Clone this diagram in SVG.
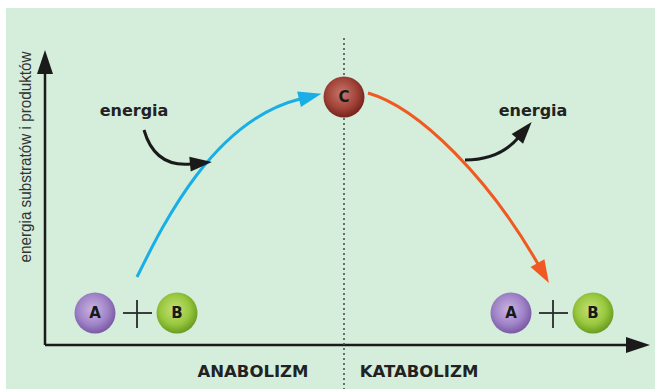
<svg xmlns="http://www.w3.org/2000/svg" width="655" height="389" viewBox="0 0 655 389">
<defs>
<radialGradient id="gA" cx="0.45" cy="0.42" r="0.6">
<stop offset="0" stop-color="#c9b6e2"/><stop offset="0.6" stop-color="#a184c8"/><stop offset="1" stop-color="#7656a2"/>
</radialGradient>
<radialGradient id="gB" cx="0.45" cy="0.42" r="0.6">
<stop offset="0" stop-color="#c6e27a"/><stop offset="0.6" stop-color="#98c83e"/><stop offset="1" stop-color="#66981e"/>
</radialGradient>
<radialGradient id="gC" cx="0.45" cy="0.42" r="0.6">
<stop offset="0" stop-color="#c8786c"/><stop offset="0.6" stop-color="#a2443a"/><stop offset="1" stop-color="#72201a"/>
</radialGradient>
<marker id="mBlue" refX="0" refY="0" markerWidth="30" markerHeight="30" markerUnits="userSpaceOnUse" orient="auto" overflow="visible">
<path d="M-1,-8 L22,0 L-1,8 Z" fill="#1aaee6"/>
</marker>
<marker id="mOrange" refX="0" refY="0" markerWidth="30" markerHeight="30" markerUnits="userSpaceOnUse" orient="auto" overflow="visible">
<path d="M-1,-8 L22,0 L-1,8 Z" fill="#f05a22"/>
</marker>
<marker id="mBlack" refX="0" refY="0" markerWidth="30" markerHeight="30" markerUnits="userSpaceOnUse" orient="auto" overflow="visible">
<path d="M-1,-7.5 L21,0 L-1,7.5 Z" fill="#1a1a1a"/>
</marker>
<marker id="mAxis" refX="0" refY="0" markerWidth="30" markerHeight="30" markerUnits="userSpaceOnUse" orient="auto" overflow="visible">
<path d="M-1,-8 L23,0 L-1,8 Z" fill="#1a1a1a"/>
</marker>
</defs>
<style>
.lbl{font-family:"DejaVu Sans",sans-serif;font-weight:bold;fill:#222;}
.mol{font-family:"DejaVu Sans",sans-serif;font-weight:bold;font-size:15px;fill:#1a1a1a;text-anchor:middle;}
.plus{stroke:#2a2a2a;stroke-width:1.8;}
.axis{stroke:#1a1a1a;stroke-width:2.5;fill:none;}
</style>
<rect x="6" y="8" width="649" height="381" fill="#d5eddb"/>
<g id="axes">
<line class="axis" x1="45" y1="345" x2="45" y2="73" marker-end="url(#mAxis)"/>
<line class="axis" x1="45" y1="345" x2="627" y2="345" marker-end="url(#mAxis)"/>
<line x1="344" y1="38" x2="344" y2="389" stroke="#444" stroke-width="1.5" stroke-dasharray="2,3"/>
</g>
<text x="31" y="157" transform="rotate(-90 31 157)" text-anchor="middle" font-family="Liberation Sans, sans-serif" font-size="16" fill="#333" textLength="211" lengthAdjust="spacingAndGlyphs">energia substratów i produktów</text>
<text class="lbl" x="253" y="377" font-size="16.5" text-anchor="middle">ANABOLIZM</text>
<text class="lbl" x="419" y="377" font-size="16.5" text-anchor="middle">KATABOLIZM</text>
<g id="connectors">
<path d="M137,277 C165,220 215,120 300,99" fill="none" stroke="#1aaee6" stroke-width="3" marker-end="url(#mBlue)"/>
<path d="M368,93 C420,108 490,180 538,264" fill="none" stroke="#f05a22" stroke-width="3" marker-end="url(#mOrange)"/>
<path d="M144,130 C152,158 170,166 191,164" fill="none" stroke="#1a1a1a" stroke-width="3" marker-end="url(#mBlack)"/>
<path d="M465,160 C490,160 506,152 518,138" fill="none" stroke="#1a1a1a" stroke-width="3" marker-end="url(#mBlack)"/>
</g>
<text class="lbl" x="134" y="116" font-size="16" text-anchor="middle">energia</text>
<text class="lbl" x="533" y="116" font-size="16" text-anchor="middle">energia</text>
<g id="C"><circle cx="344" cy="97" r="20.5" fill="url(#gC)"/><text class="mol" x="344" y="102">C</text></g>
<g id="A1"><circle cx="95" cy="313" r="20.5" fill="url(#gA)"/><text class="mol" x="95" y="318">A</text></g>
<g id="plus1"><line class="plus" x1="123" y1="313" x2="152" y2="313"/><line class="plus" x1="137" y1="300" x2="137" y2="328"/></g>
<g id="B1"><circle cx="177" cy="313" r="20.5" fill="url(#gB)"/><text class="mol" x="177" y="318">B</text></g>
<g id="A2"><circle cx="511" cy="313" r="20.5" fill="url(#gA)"/><text class="mol" x="511" y="318">A</text></g>
<g id="plus2"><line class="plus" x1="539" y1="313" x2="568" y2="313"/><line class="plus" x1="553" y1="300" x2="553" y2="328"/></g>
<g id="B2"><circle cx="593" cy="313" r="20.5" fill="url(#gB)"/><text class="mol" x="593" y="318">B</text></g>
</svg>
